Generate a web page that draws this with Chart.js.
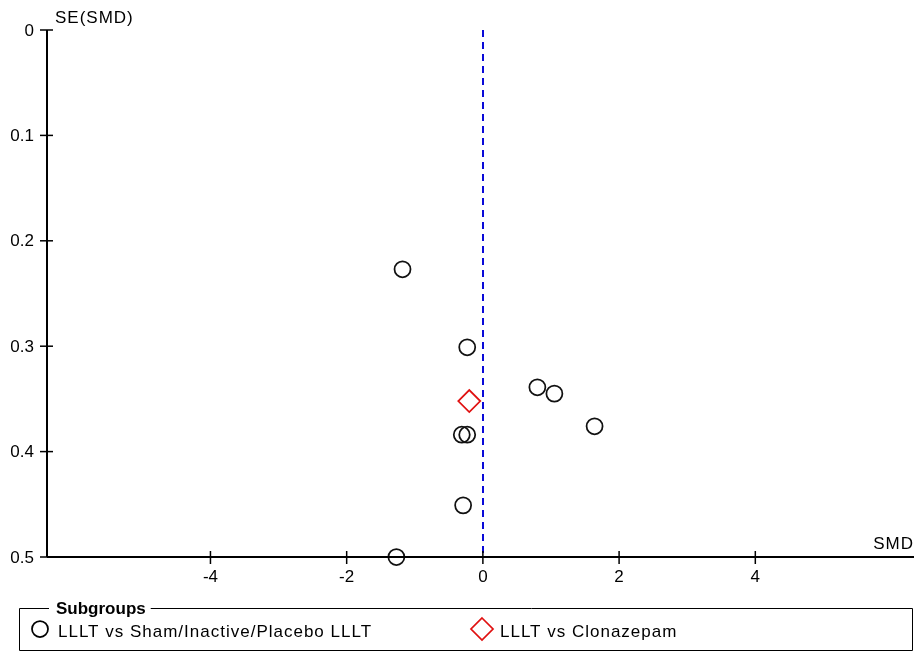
<!DOCTYPE html>
<html>
<head>
<meta charset="utf-8">
<script src="https://cdn.jsdelivr.net/npm/chart.js@4.4.1/dist/chart.umd.min.js"></script>
<style>
  html, body { margin: 0; padding: 0; background: #fff; }
  #wrap { position: relative; width: 914px; height: 651px; }
</style>
</head>
<body>
<div id="wrap"><canvas id="funnel"></canvas></div>
<script>
// study estimates, subgroup 1: LLLT vs Sham/Inactive/Placebo LLLT
const shamSMD = [-1.18, -0.23, 0.80, 1.05, 1.64, -0.31, -0.23, -0.29, -1.27];
const shamSE  = [0.227, 0.301, 0.339, 0.345, 0.376, 0.384, 0.384, 0.451, 0.500];
// subgroup 2: LLLT vs Clonazepam
const clonSMD = [-0.20];
const clonSE  = [0.352];

const xTicks = [-4, -2, 0, 2, 4];
const yTicks = [0, 0.1, 0.2, 0.3, 0.4, 0.5];
const pooledSMD = 0;

const legendLabels = ['LLLT vs Sham/Inactive/Placebo LLLT', 'LLLT vs Clonazepam'];

const FONT = "'Liberation Sans', Arial, sans-serif";

// draws axes crossing ticks, labels, pooled line and the subgroup box
const funnelAxes = {
    id: 'funnelAxes',
    beforeDatasetsDraw(chart) {
        const { ctx, scales: { x, y } } = chart;
        ctx.save();
        // pooled estimate line
        ctx.strokeStyle = '#0a0ad8';
        ctx.lineWidth = 2;
        ctx.setLineDash([7, 5]);
        const px = Math.round(x.getPixelForValue(pooledSMD));
        ctx.beginPath();
        ctx.moveTo(px, y.getPixelForValue(0));
        ctx.lineTo(px, y.getPixelForValue(0.5));
        ctx.stroke();
        ctx.restore();
    },
    afterDatasetsDraw(chart) {
        const { ctx, chartArea: a, scales: { x, y } } = chart;
        ctx.save();
        ctx.strokeStyle = '#000';
        ctx.fillStyle = '#000';
        ctx.lineWidth = 2;
        ctx.setLineDash([]);

        // y axis
        ctx.beginPath();
        ctx.moveTo(a.left, a.top);
        ctx.lineTo(a.left, a.bottom);
        ctx.stroke();
        // x axis
        ctx.beginPath();
        ctx.moveTo(a.left, a.bottom);
        ctx.lineTo(a.right, a.bottom);
        ctx.stroke();

        ctx.lineWidth = 1.5;
        ctx.font = '17px ' + FONT;
        ctx.textAlign = 'right';
        ctx.textBaseline = 'middle';
        yTicks.forEach(v => {
            const py = y.getPixelForValue(v);
            ctx.beginPath();
            ctx.moveTo(a.left - 7, py);
            ctx.lineTo(a.left + 6, py);
            ctx.stroke();
            ctx.fillText(String(v), a.left - 13, py + 1);
        });

        ctx.textAlign = 'center';
        ctx.textBaseline = 'top';
        xTicks.forEach(v => {
            const p = x.getPixelForValue(v);
            ctx.beginPath();
            ctx.moveTo(p, a.bottom - 6);
            ctx.lineTo(p, a.bottom + 7);
            ctx.stroke();
            ctx.fillText(String(v), p, a.bottom + 12);
        });

        // axis titles
        ctx.letterSpacing = '1px';
        ctx.textAlign = 'left';
        ctx.textBaseline = 'middle';
        ctx.fillText('SE(SMD)', a.left + 8, a.top - 12);
        ctx.textAlign = 'right';
        ctx.fillText('SMD', a.right, a.bottom - 13);
        ctx.letterSpacing = '0px';

        // subgroup box
        const bx = 19, by = 608, bw = 893, bh = 42;
        ctx.lineWidth = 1;
        ctx.font = 'bold 17px ' + FONT;
        const title = 'Subgroups';
        const tw = ctx.measureText(title).width;
        ctx.beginPath();
        ctx.moveTo(bx + 30, by + 0.5);
        ctx.lineTo(bx + 0.5, by + 0.5);
        ctx.lineTo(bx + 0.5, by + bh + 0.5);
        ctx.lineTo(bx + bw + 0.5, by + bh + 0.5);
        ctx.lineTo(bx + bw + 0.5, by + 0.5);
        ctx.lineTo(bx + 42 + tw, by + 0.5);
        ctx.stroke();
        ctx.textAlign = 'left';
        ctx.fillText(title, bx + 37, by + 1);

        ctx.font = '17px ' + FONT;
        ctx.letterSpacing = '1px';
        ctx.lineWidth = 1.75;
        // item 1: circle
        ctx.beginPath();
        ctx.arc(40, 629, 8, 0, Math.PI * 2);
        ctx.strokeStyle = '#000';
        ctx.stroke();
        ctx.fillText(legendLabels[0], 58, 632);
        // item 2: diamond
        ctx.strokeStyle = '#e01010';
        ctx.beginPath();
        ctx.moveTo(482, 618);
        ctx.lineTo(493, 629);
        ctx.lineTo(482, 640);
        ctx.lineTo(471, 629);
        ctx.closePath();
        ctx.stroke();
        ctx.fillText(legendLabels[1], 500, 632);
        ctx.restore();
    }
};

new Chart(document.getElementById('funnel'), {
    type: 'scatter',
    plugins: [funnelAxes],
    data: {
        datasets: [{
            label: legendLabels[0],
            data: shamSMD.map((v, i) => ({ x: v, y: shamSE[i] })),
            pointStyle: 'circle',
            pointRadius: 8,
            pointBorderWidth: 1.75,
            borderColor: '#111',
            backgroundColor: 'rgba(0,0,0,0)',
            clip: false
        }, {
            label: legendLabels[1],
            data: clonSMD.map((v, i) => ({ x: v, y: clonSE[i] })),
            pointStyle: 'rectRot',
            pointRadius: 11,
            pointBorderWidth: 1.75,
            borderColor: '#e01010',
            backgroundColor: 'rgba(0,0,0,0)',
            clip: false
        }]
    },
    options: {
        responsive: true,
        maintainAspectRatio: false,
        animation: false,
        layout: { autoPadding: false, padding: { left: 47, right: 0, top: 30, bottom: 94 } },
        plugins: {
            legend: { display: false },
            tooltip: { enabled: false }
        },
        scales: {
            x: { type: 'linear', min: -6.4, max: 6.33, display: false },
            y: { type: 'linear', min: 0, max: 0.5, reverse: true, display: false }
        }
    }
});
</script>
</body>
</html>
